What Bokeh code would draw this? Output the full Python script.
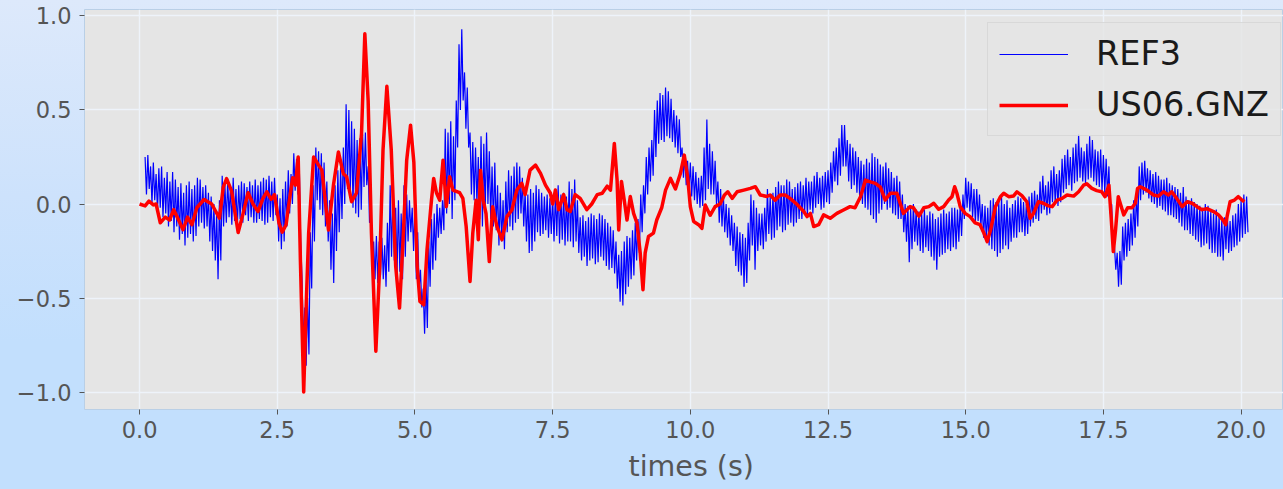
from bokeh.plotting import figure
from bokeh.models import FixedTicker, Legend, LegendItem, Range1d, Title
from bokeh.embed import file_html
from bokeh.resources import INLINE

# REF3 trace: upper and lower excursions, one pair every 0.05 s starting at 0.10 s
ref3_start = 0.10
ref3_step = 0.05
ref3_hi = [
    0.25, 0.26, 0.20, 0.22, 0.16, 0.19, 0.20, 0.14, 0.17, 0.12, 0.17, 0.13, 0.09, 0.11, 0.06, 0.10, 0.12, 0.08, 0.10, 0.14,
    0.13, 0.09, 0.10, 0.06, 0.04, 0.00, -0.04, 0.02, 0.15, 0.10, 0.13, 0.09, 0.14, 0.08, 0.10, 0.12, 0.11, 0.09, 0.12, 0.10,
    0.13, 0.10, 0.12, 0.14, 0.13, 0.15, 0.12, 0.14, 0.05, 0.03, 0.08, 0.12, 0.18, 0.16, 0.27, 0.24, 0.20, -0.40, -0.55, -0.50,
    -0.15, 0.10, 0.30, 0.28, 0.27, 0.22, 0.12, 0.02, -0.05, 0.10, 0.18, 0.20, 0.30, 0.53, 0.50, 0.44, 0.40, 0.34, 0.35, 0.37,
    0.38, 0.20, -0.05, -0.20, -0.17, -0.20, -0.18, -0.22, -0.10, 0.10, 0.05, -0.02, 0.02, -0.05, 0.10, 0.05, 0.02, -0.02, 0.00, -0.15,
    -0.35, -0.45, -0.40, -0.20, -0.08, -0.05, 0.00, -0.02, 0.02, 0.40, 0.38, 0.44, 0.36, 0.55, 0.85, 0.93, 0.70, 0.62, 0.38, 0.33,
    0.30, 0.25, 0.36, 0.32, 0.38, 0.28, 0.20, 0.22, 0.10, 0.06, 0.02, 0.12, 0.18, 0.15, 0.20, 0.22, 0.20, 0.14, 0.07, 0.05,
    0.08, 0.06, 0.10, 0.08, 0.06, 0.04, 0.05, 0.03, 0.04, 0.06, 0.10, 0.05, 0.06, 0.04, 0.12, 0.08, 0.13, 0.02, -0.07, -0.06,
    -0.09, -0.07, -0.05, -0.06, -0.08, -0.05, -0.06, -0.08, -0.10, -0.12, -0.14, -0.20, -0.27, -0.25, -0.20, -0.17, -0.18, -0.14, -0.10, -0.08,
    0.05, 0.10, 0.25, 0.30, 0.34, 0.50, 0.55, 0.59, 0.58, 0.62, 0.60, 0.56, 0.50, 0.47, 0.45, 0.30, 0.26, 0.23, 0.22, 0.20,
    0.17, 0.14, 0.15, 0.30, 0.45, 0.32, 0.28, 0.23, 0.12, 0.08, 0.05, 0.00, -0.02, -0.06, -0.10, -0.12, -0.15, -0.16, -0.18, -0.10,
    0.05, 0.02, -0.02, -0.05, -0.05, -0.02, 0.08, 0.04, 0.06, 0.09, 0.12, 0.10, 0.10, 0.13, 0.12, 0.08, 0.09, 0.11, 0.12, 0.10,
    0.14, 0.12, 0.12, 0.15, 0.17, 0.14, 0.15, 0.17, 0.18, 0.22, 0.28, 0.30, 0.35, 0.42, 0.42, 0.34, 0.32, 0.30, 0.28, 0.25,
    0.23, 0.21, 0.24, 0.22, 0.27, 0.25, 0.24, 0.21, 0.20, 0.22, 0.19, 0.17, 0.14, 0.15, 0.12, 0.05, 0.00, -0.01, -0.02, 0.00,
    -0.03, -0.04, -0.05, -0.03, -0.06, -0.04, -0.05, -0.08, -0.07, -0.05, -0.03, -0.05, -0.04, -0.02, -0.02, -0.03, 0.00, 0.05, 0.14, 0.12,
    0.11, 0.08, 0.08, 0.05, 0.00, -0.01, -0.02, 0.02, 0.03, 0.01, 0.02, 0.04, 0.00, 0.02, -0.02, 0.00, 0.02, 0.04, 0.03, 0.01,
    0.00, 0.04, 0.06, 0.07, 0.05, 0.12, 0.15, 0.10, 0.12, 0.18, 0.20, 0.16, 0.18, 0.24, 0.26, 0.29, 0.25, 0.30, 0.32, 0.37,
    0.30, 0.28, 0.32, 0.36, 0.34, 0.29, 0.28, 0.29, 0.26, 0.24, 0.20, 0.00, -0.22, -0.26, -0.25, -0.12, -0.10, -0.08, -0.05, 0.02,
    0.05, 0.20, 0.22, 0.23, 0.19, 0.18, 0.16, 0.17, 0.15, 0.13, 0.13, 0.14, 0.11, 0.10, 0.09, 0.08, 0.06, 0.09, 0.04, 0.02,
    0.03, 0.01, 0.00, -0.01, -0.02, 0.00, -0.01, -0.04, -0.05, -0.03, -0.06, -0.08, -0.07, -0.05, -0.09, -0.06, -0.05, 0.00, 0.02, 0.05,
    0.04,
]
ref3_lo = [
    0.05, 0.08, 0.00, 0.02, -0.04, -0.02, -0.07, -0.05, -0.12, -0.09, -0.15, -0.12, -0.19, -0.16, -0.22, -0.18, -0.16, -0.20, -0.17, -0.12,
    -0.10, -0.13, -0.12, -0.20, -0.25, -0.30, -0.40, -0.30, -0.12, -0.10, -0.07, -0.11, -0.09, -0.12, -0.08, -0.10, -0.06, -0.09, -0.07, -0.10,
    -0.10, -0.08, -0.09, -0.11, -0.10, -0.07, -0.09, -0.06, -0.20, -0.24, -0.20, -0.12, -0.05, 0.00, 0.07, 0.05, -0.20, -0.75, -0.86, -0.80,
    -0.45, -0.20, 0.02, -0.03, -0.06, -0.12, -0.20, -0.35, -0.42, -0.25, -0.15, -0.08, 0.00, 0.08, 0.05, -0.02, -0.05, -0.07, -0.03, 0.09,
    0.10, -0.10, -0.30, -0.40, -0.42, -0.38, -0.40, -0.44, -0.36, -0.28, -0.30, -0.38, -0.36, -0.40, -0.28, -0.20, -0.15, -0.25, -0.40, -0.45,
    -0.55, -0.69, -0.66, -0.44, -0.35, -0.30, -0.18, -0.16, -0.14, -0.05, 0.00, -0.08, 0.02, 0.30, 0.50, 0.55, 0.40, 0.30, 0.05, 0.02,
    0.00, -0.08, -0.12, -0.05, 0.00, -0.08, -0.12, -0.14, -0.22, -0.20, -0.24, -0.15, -0.12, -0.14, -0.10, -0.08, -0.05, -0.12, -0.20, -0.26,
    -0.25, -0.20, -0.15, -0.17, -0.16, -0.14, -0.18, -0.16, -0.20, -0.17, -0.21, -0.19, -0.22, -0.20, -0.20, -0.23, -0.20, -0.26, -0.30, -0.28,
    -0.33, -0.30, -0.29, -0.32, -0.31, -0.28, -0.30, -0.33, -0.35, -0.34, -0.37, -0.45, -0.52, -0.54, -0.48, -0.44, -0.40, -0.38, -0.30, -0.26,
    -0.15, -0.05, 0.05, 0.12, 0.15, 0.25, 0.32, 0.34, 0.33, 0.36, 0.35, 0.33, 0.30, 0.27, 0.25, 0.14, 0.10, 0.07, 0.04, 0.02,
    0.00, -0.02, -0.01, 0.02, 0.08, 0.05, 0.05, 0.00, -0.10, -0.12, -0.15, -0.18, -0.22, -0.25, -0.33, -0.36, -0.38, -0.44, -0.42, -0.30,
    -0.22, -0.35, -0.25, -0.22, -0.24, -0.20, -0.16, -0.19, -0.18, -0.14, -0.12, -0.15, -0.14, -0.11, -0.10, -0.12, -0.10, -0.08, -0.08, -0.05,
    -0.06, -0.03, -0.05, -0.02, 0.00, -0.03, -0.02, 0.01, 0.00, 0.06, 0.12, 0.10, 0.15, 0.20, 0.20, 0.12, 0.08, 0.10, 0.06, 0.03,
    0.00, -0.02, -0.03, -0.06, -0.08, -0.10, -0.05, -0.03, 0.00, -0.03, -0.02, -0.05, -0.06, -0.08, -0.08, -0.15, -0.20, -0.31, -0.24, -0.20,
    -0.22, -0.25, -0.26, -0.23, -0.25, -0.28, -0.30, -0.35, -0.28, -0.27, -0.26, -0.24, -0.25, -0.23, -0.24, -0.20, -0.17, -0.08, -0.02, -0.04,
    -0.07, -0.10, -0.09, -0.12, -0.18, -0.20, -0.22, -0.24, -0.25, -0.28, -0.26, -0.24, -0.22, -0.24, -0.20, -0.18, -0.18, -0.15, -0.15, -0.17,
    -0.16, -0.12, -0.10, -0.08, -0.09, -0.05, -0.03, -0.06, -0.05, 0.01, 0.00, -0.01, 0.01, 0.06, 0.08, 0.10, 0.07, 0.11, 0.12, 0.14,
    0.12, 0.11, 0.13, 0.14, 0.12, 0.10, 0.09, 0.07, 0.06, 0.04, -0.05, -0.25, -0.35, -0.44, -0.43, -0.30, -0.28, -0.25, -0.22, -0.18,
    -0.12, 0.02, 0.05, 0.06, 0.03, 0.01, 0.00, -0.02, -0.01, -0.03, -0.04, -0.06, -0.06, -0.07, -0.08, -0.10, -0.12, -0.14, -0.14, -0.16,
    -0.17, -0.19, -0.20, -0.23, -0.22, -0.21, -0.24, -0.26, -0.26, -0.28, -0.28, -0.30, -0.24, -0.26, -0.25, -0.23, -0.22, -0.20, -0.18, -0.16,
    -0.15,
]

# US06.GNZ trace: time (s) and amplitude
us06_t = [
    0.0, 0.1, 0.17, 0.25, 0.3, 0.376, 0.467, 0.545, 0.62, 0.70,
    0.79, 0.87, 0.95, 1.04, 1.17, 1.31, 1.45, 1.52, 1.58, 1.67,
    1.79, 1.88, 1.97, 2.06, 2.15, 2.24, 2.31, 2.39, 2.45, 2.53,
    2.59, 2.66, 2.71, 2.78, 2.83, 2.88, 2.92, 2.98, 3.03, 3.07,
    3.16, 3.25, 3.31, 3.43, 3.52, 3.61, 3.70, 3.76, 3.85, 3.94,
    4.03, 4.09, 4.15, 4.21, 4.29, 4.36, 4.42, 4.49, 4.57, 4.65,
    4.72, 4.79, 4.85, 4.92, 4.98, 5.04, 5.09, 5.16, 5.22, 5.30,
    5.34, 5.39, 5.45, 5.51, 5.57, 5.63, 5.69, 5.81, 5.87, 5.93,
    6.0, 6.05, 6.11, 6.15, 6.19, 6.24, 6.29, 6.35, 6.41, 6.49,
    6.58, 6.67, 6.76, 6.85, 6.94, 7.0, 7.09, 7.19, 7.28, 7.37,
    7.46, 7.50, 7.55, 7.61, 7.70, 7.76, 7.82, 7.91, 8.0, 8.12,
    8.21, 8.31, 8.40, 8.49, 8.55, 8.62, 8.67, 8.70, 8.75, 8.80,
    8.85, 8.91, 8.97, 9.03, 9.09, 9.14, 9.18, 9.24, 9.33, 9.39,
    9.48, 9.55, 9.64, 9.73, 9.82, 9.89, 9.95, 10.0, 10.06, 10.15,
    10.21, 10.27, 10.36, 10.45, 10.54, 10.62, 10.68, 10.76, 10.85, 10.97,
    11.09, 11.18, 11.27, 11.39, 11.45, 11.54, 11.63, 11.72, 11.81, 11.93,
    12.06, 12.12, 12.18, 12.24, 12.33, 12.42, 12.54, 12.66, 12.78, 12.90,
    12.99, 13.09, 13.18, 13.24, 13.36, 13.45, 13.54, 13.63, 13.75, 13.87,
    13.99, 14.05, 14.15, 14.24, 14.33, 14.42, 14.51, 14.60, 14.69, 14.75,
    14.80, 14.84, 14.90, 14.99, 15.08, 15.17, 15.26, 15.33, 15.39, 15.45,
    15.54, 15.63, 15.69, 15.78, 15.87, 15.93, 16.02, 16.11, 16.17, 16.23,
    16.32, 16.41, 16.50, 16.57, 16.66, 16.75, 16.84, 16.96, 17.05, 17.14,
    17.20, 17.29, 17.38, 17.47, 17.53, 17.60, 17.64, 17.68, 17.72, 17.77,
    17.81, 17.87, 17.94, 18.02, 18.08, 18.12, 18.17, 18.29, 18.41, 18.50,
    18.59, 18.68, 18.74, 18.83, 18.93, 19.02, 19.11, 19.20, 19.29, 19.38,
    19.50, 19.59, 19.67, 19.72, 19.75, 19.80, 19.88, 19.95, 20.0, 20.06,
]
us06_v = [
    0.0, -0.01, 0.015, -0.005, 0.0, -0.10, -0.07, -0.085, -0.03, -0.08,
    -0.137, -0.07, -0.11, -0.02, 0.024, 0.0, -0.076, 0.09, 0.135, 0.07,
    -0.152, -0.05, 0.06, 0.0, -0.04, 0.03, 0.065, 0.025, 0.05, -0.10,
    -0.15, -0.11, 0.0, 0.14, 0.10, 0.25, -0.30, -1.0, -0.50, -0.155,
    0.25, 0.207, 0.18, -0.138, 0.10, 0.277, 0.16, 0.145, 0.012, 0.06,
    0.375, 0.905, 0.55, -0.155, -0.783, -0.33, 0.286, 0.626, 0.286, -0.33,
    -0.553, -0.155, 0.233, 0.419, 0.222, -0.33, -0.518, -0.536, -0.24, 0.021,
    0.136, 0.06, 0.02, 0.233, -0.014, 0.145, 0.074, 0.06, 0.03, -0.12,
    -0.412, -0.155, 0.02, -0.19, 0.18, 0.02, -0.05, -0.306, -0.014, -0.12,
    -0.19, -0.067, -0.032, 0.074, 0.11, 0.05, 0.18, 0.207, 0.163, 0.10,
    0.057, 0.0, 0.074, -0.03, 0.05, -0.03, -0.04, 0.05, 0.03, -0.03,
    0.0, 0.05, 0.057, 0.095, 0.074, 0.322, 0.127, -0.138, 0.12, 0.02,
    -0.085, 0.04, -0.05, -0.10, -0.26, -0.456, -0.26, -0.173, -0.155, -0.085,
    -0.02, 0.074, 0.136, 0.08, 0.163, 0.26, 0.145, -0.014, -0.093, -0.11,
    -0.13, -0.005, -0.06, -0.014, 0.0, 0.048, 0.065, 0.03, 0.065, 0.074,
    0.083, 0.092, 0.048, 0.04, 0.048, 0.02, 0.048, 0.048, 0.03, 0.0,
    -0.04, -0.067, -0.05, -0.12, -0.11, -0.058, -0.076, -0.05, -0.032, -0.014,
    -0.02, 0.039, 0.127, 0.12, 0.11, 0.09, 0.021, 0.057, 0.057, -0.05,
    -0.014, -0.02, -0.064, -0.02, -0.014, 0.004, -0.028, -0.014, 0.021, 0.039,
    0.092, 0.057, -0.014, -0.05, -0.067, -0.10, -0.11, -0.155, -0.20, -0.14,
    -0.014, 0.039, 0.057, 0.039, 0.043, 0.065, 0.045, 0.012, -0.076, -0.05,
    0.012, 0.004, -0.01, -0.014, 0.021, 0.03, 0.048, 0.042, 0.065, 0.10,
    0.107, 0.083, 0.071, 0.065, 0.039, 0.10, -0.067, -0.253, -0.14, 0.039,
    0.0, -0.058, -0.02, -0.02, 0.004, 0.083, 0.092, 0.074, 0.048, 0.042,
    0.065, 0.048, 0.065, 0.03, -0.014, 0.012, 0.004, -0.014, -0.03, -0.025,
    -0.04, -0.058, -0.085, -0.11, -0.06, 0.012, 0.021, 0.039, 0.025, 0.012,
]

x_ticks = [0.0, 2.5, 5.0, 7.5, 10.0, 12.5, 15.0, 17.5, 20.0]
x_tick_labels = ["0.0", "2.5", "5.0", "7.5", "10.0", "12.5", "15.0", "17.5", "20.0"]
y_ticks = [-1.0, -0.5, 0.0, 0.5, 1.0]
y_tick_labels = ["\u22121.0", "\u22120.5", "0.0", "0.5", "1.0"]

# Interleave the excursions into a single zig-zag trace
ref3_t = []
ref3_v = []
for i, (hi, lo) in enumerate(zip(ref3_hi, ref3_lo)):
    t = round(ref3_start + i * ref3_step, 4)
    ref3_t += [t, round(t + ref3_step / 2, 4)]
    ref3_v += [hi, lo]

FONT = "DejaVu Sans"
TICK_COLOR = "#555555"

p = figure(
    width=1283, height=489,
    x_range=Range1d(-1.0, 20.77), y_range=Range1d(-1.093, 1.0345),
    output_backend="svg", toolbar_location=None,
    min_border_left=84, min_border_right=0, min_border_top=9, min_border_bottom=79,
)
p.background_fill_color = "#e5e5e5"
p.border_fill_alpha = 0
p.styles = {"background": "linear-gradient(to bottom, #dde9fb 0%, #cde2fc 40%, #c2dffd 70%, #c2dffd 100%)"}
p.outline_line_color = "#b9cfe6"
p.outline_line_width = 1

for ax, ticks, labels in ((p.xaxis[0], x_ticks, x_tick_labels), (p.yaxis[0], y_ticks, y_tick_labels)):
    ax.ticker = FixedTicker(ticks=ticks)
    ax.major_label_overrides = dict(zip(ticks, labels))
    ax.axis_line_color = None
    ax.major_tick_line_color = TICK_COLOR
    ax.major_tick_out = 5
    ax.major_tick_in = 0
    ax.minor_tick_line_color = None
    ax.major_label_text_font = FONT
    ax.major_label_text_font_size = "22.5px"
    ax.major_label_text_color = TICK_COLOR
p.xaxis.major_label_standoff = 6
p.yaxis.major_label_standoff = 8

p.xgrid.ticker = FixedTicker(ticks=x_ticks)
p.ygrid.ticker = FixedTicker(ticks=y_ticks)
for g in (p.xgrid, p.ygrid):
    g.grid_line_color = "#eef3fa"
    g.grid_line_width = 1.4

r_ref = p.line(ref3_t, ref3_v, line_color="#0000ff", line_width=1.2)
r_us = p.line(us06_t, us06_v, line_color="#ff0000", line_width=3.5, line_join="round")

legend = Legend(
    items=[LegendItem(label="REF3", renderers=[r_ref]),
           LegendItem(label="US06.GNZ", renderers=[r_us])],
    location=(903, 273), margin=0,
    padding=11, spacing=12, glyph_width=69, glyph_height=38, label_height=38,
    label_standoff=28,
    label_text_font=FONT, label_text_font_size="33.5px", label_text_color="#1a1a1a",
    background_fill_color="#e5e5e5", background_fill_alpha=0.8,
    border_line_color="#cccccc", border_line_width=1,
)
p.add_layout(legend)

# x-axis title, placed under the axis at the centre of the full axes span
p.add_layout(Title(
    text="times (s)", align="left", offset=544, standoff=14,
    text_font=FONT, text_font_size="28.5px", text_color=TICK_COLOR,
    text_font_style="normal",
), "below")

open("out.html", "w").write(file_html(p, INLINE))
